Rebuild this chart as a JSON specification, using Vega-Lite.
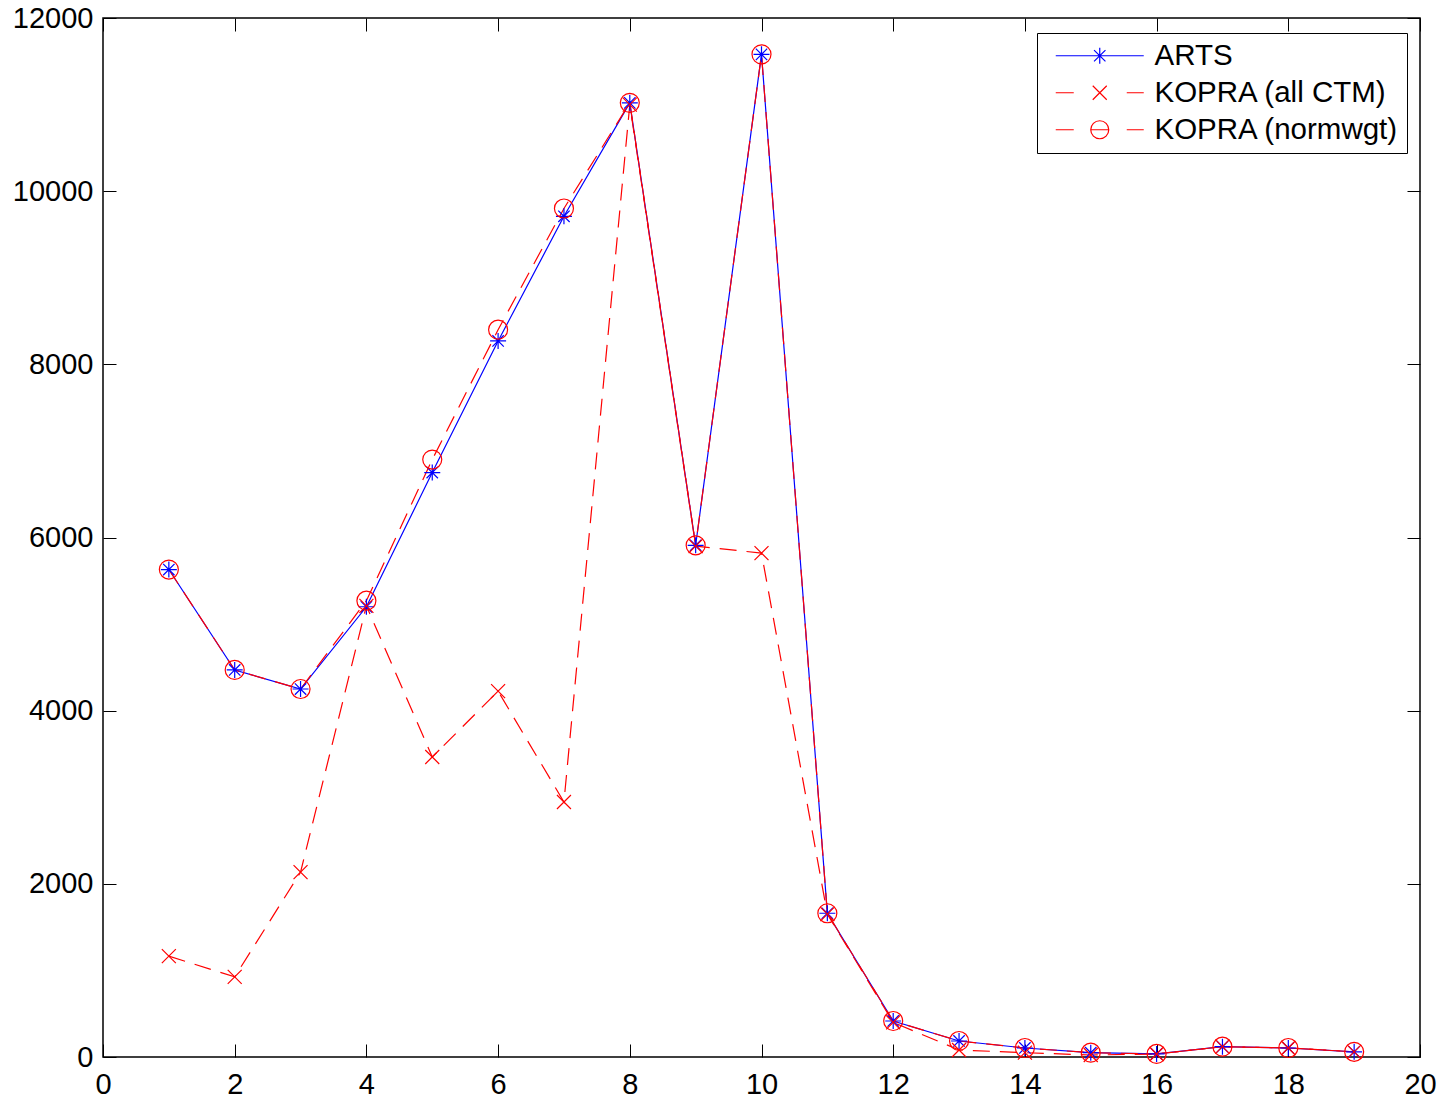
{
  "$schema": "https://vega.github.io/schema/vega-lite/v6.json",
  "width": 1317,
  "height": 1039,
  "autosize": {"type": "none"},
  "padding": {"left": 103, "top": 18, "right": 22, "bottom": 42},
  "background": "white",
  "config": {
    "view": {"stroke": "black", "strokeWidth": 1.5},
    "font": "Liberation Sans",
    "axis": {"labelFont": "Liberation Sans", "labelFontSize": 29, "labelColor": "black", "tickColor": "black", "domain": false, "grid": false, "title": null, "labelFlush": false}
  },
  "data": {"values": [
    {"x": 1, "series": "ARTS", "value": 5630},
    {"x": 2, "series": "ARTS", "value": 4470},
    {"x": 3, "series": "ARTS", "value": 4250},
    {"x": 4, "series": "ARTS", "value": 5200},
    {"x": 5, "series": "ARTS", "value": 6750},
    {"x": 6, "series": "ARTS", "value": 8270},
    {"x": 7, "series": "ARTS", "value": 9710},
    {"x": 8, "series": "ARTS", "value": 11020},
    {"x": 9, "series": "ARTS", "value": 5910},
    {"x": 10, "series": "ARTS", "value": 11580},
    {"x": 11, "series": "ARTS", "value": 1660},
    {"x": 12, "series": "ARTS", "value": 416},
    {"x": 13, "series": "ARTS", "value": 185},
    {"x": 14, "series": "ARTS", "value": 104},
    {"x": 15, "series": "ARTS", "value": 50},
    {"x": 16, "series": "ARTS", "value": 35},
    {"x": 17, "series": "ARTS", "value": 119},
    {"x": 18, "series": "ARTS", "value": 104},
    {"x": 19, "series": "ARTS", "value": 60},
    {"x": 1, "series": "KOPRA (all CTM)", "value": 1165},
    {"x": 2, "series": "KOPRA (all CTM)", "value": 925},
    {"x": 3, "series": "KOPRA (all CTM)", "value": 2135},
    {"x": 4, "series": "KOPRA (all CTM)", "value": 5210},
    {"x": 5, "series": "KOPRA (all CTM)", "value": 3465},
    {"x": 6, "series": "KOPRA (all CTM)", "value": 4225},
    {"x": 7, "series": "KOPRA (all CTM)", "value": 2945},
    {"x": 8, "series": "KOPRA (all CTM)", "value": 11000},
    {"x": 9, "series": "KOPRA (all CTM)", "value": 5900},
    {"x": 10, "series": "KOPRA (all CTM)", "value": 5820},
    {"x": 11, "series": "KOPRA (all CTM)", "value": 1650},
    {"x": 12, "series": "KOPRA (all CTM)", "value": 400},
    {"x": 13, "series": "KOPRA (all CTM)", "value": 81},
    {"x": 14, "series": "KOPRA (all CTM)", "value": 50},
    {"x": 15, "series": "KOPRA (all CTM)", "value": 23},
    {"x": 16, "series": "KOPRA (all CTM)", "value": 35},
    {"x": 17, "series": "KOPRA (all CTM)", "value": 119},
    {"x": 18, "series": "KOPRA (all CTM)", "value": 104},
    {"x": 19, "series": "KOPRA (all CTM)", "value": 60},
    {"x": 1, "series": "KOPRA (normwgt)", "value": 5630},
    {"x": 2, "series": "KOPRA (normwgt)", "value": 4470},
    {"x": 3, "series": "KOPRA (normwgt)", "value": 4250},
    {"x": 4, "series": "KOPRA (normwgt)", "value": 5270},
    {"x": 5, "series": "KOPRA (normwgt)", "value": 6900},
    {"x": 6, "series": "KOPRA (normwgt)", "value": 8400},
    {"x": 7, "series": "KOPRA (normwgt)", "value": 9800},
    {"x": 8, "series": "KOPRA (normwgt)", "value": 11020},
    {"x": 9, "series": "KOPRA (normwgt)", "value": 5910},
    {"x": 10, "series": "KOPRA (normwgt)", "value": 11580},
    {"x": 11, "series": "KOPRA (normwgt)", "value": 1660},
    {"x": 12, "series": "KOPRA (normwgt)", "value": 416},
    {"x": 13, "series": "KOPRA (normwgt)", "value": 185},
    {"x": 14, "series": "KOPRA (normwgt)", "value": 104},
    {"x": 15, "series": "KOPRA (normwgt)", "value": 50},
    {"x": 16, "series": "KOPRA (normwgt)", "value": 35},
    {"x": 17, "series": "KOPRA (normwgt)", "value": 119},
    {"x": 18, "series": "KOPRA (normwgt)", "value": 104},
    {"x": 19, "series": "KOPRA (normwgt)", "value": 60}
  ]},
  "resolve": {"axis": {"x": "independent", "y": "independent"}},
  "layer": [
    {
      "transform": [{"filter": "datum.series === 'ARTS'"}],
      "mark": {"type": "line", "strokeWidth": 1.2},
      "encoding": {
        "x": {"field": "x", "type": "quantitative", "scale": {"domain": [0, 20], "nice": false, "zero": false},
              "axis": {"orient": "bottom", "values": [0,2,4,6,8,10,12,14,16,18,20], "format": "d", "tickSize": -13, "labelPadding": 26}},
        "y": {"field": "value", "type": "quantitative", "scale": {"domain": [0, 12000], "nice": false},
              "axis": {"orient": "left", "values": [0,2000,4000,6000,8000,10000,12000], "format": "d", "tickSize": -13, "labelPadding": 23}},
        "color": {"field": "series", "type": "nominal",
                  "scale": {"domain": ["ARTS", "KOPRA (all CTM)", "KOPRA (normwgt)"], "range": ["#0000ff", "#ff0000", "#ff0000"]},
                  "legend": {
                    "title": null, "orient": "none", "legendX": 934, "legendY": 15,
                    "strokeColor": "black", "fillColor": "white", "padding": 8,
                    "labelFont": "Liberation Sans", "labelFontSize": 29.5, "labelColor": "black", "labelLimit": 500,
                    "symbolSize": 400, "symbolOffset": 40, "labelOffset": 40, "rowPadding": 6,
                    "symbolStrokeWidth": 1.2,
                    "encode": {"symbols": {"update": {
                      "shape": {"signal": "datum.value === 'ARTS' ? 'M-4.4,0H4.4M-0.8,0H0.8M0,-0.8V0.8M-0.57,-0.57L0.57,0.57M-0.57,0.57L0.57,-0.57' : datum.value === 'KOPRA (all CTM)' ? 'M-4.4,0H-2.6M2.7,0H4.4M-0.7,-0.7L0.7,0.7M-0.7,0.7L0.7,-0.7' : 'M-4.4,0H-2.6M2.7,0H4.4M-0.9,0H0.9M-0.9,0A0.9 0.9 0 1 0 0.9,0A0.9 0.9 0 1 0 -0.9,0'"},
                      "fill": {"value": "transparent"},
                      "stroke": {"signal": "datum.value === 'ARTS' ? '#0000ff' : '#ff0000'"},
                      "strokeWidth": {"value": 1.2},
                      "opacity": {"value": 1}
                    }}}
                  }}
      }
    },
    {
      "transform": [{"filter": "datum.series === 'KOPRA (all CTM)'"}],
      "mark": {"type": "line", "strokeWidth": 1.2, "strokeDash": [17, 10]},
      "encoding": {
        "x": {"field": "x", "type": "quantitative", "axis": null},
        "y": {"field": "value", "type": "quantitative", "axis": null},
        "color": {"field": "series", "type": "nominal"}
      }
    },
    {
      "transform": [{"filter": "datum.series === 'KOPRA (normwgt)'"}],
      "mark": {"type": "line", "strokeWidth": 1.2, "strokeDash": [17, 10]},
      "encoding": {
        "x": {"field": "x", "type": "quantitative", "axis": null},
        "y": {"field": "value", "type": "quantitative", "axis": null},
        "color": {"field": "series", "type": "nominal"}
      }
    },
    {
      "transform": [{"filter": "datum.series === 'ARTS'"}],
      "mark": {"type": "point", "filled": false, "strokeWidth": 1.2, "opacity": 1, "size": 400,
               "shape": "M-0.8,0H0.8M0,-0.8V0.8M-0.57,-0.57L0.57,0.57M-0.57,0.57L0.57,-0.57"},
      "encoding": {
        "x": {"field": "x", "type": "quantitative", "axis": null},
        "y": {"field": "value", "type": "quantitative", "axis": null},
        "color": {"field": "series", "type": "nominal"}
      }
    },
    {
      "transform": [{"filter": "datum.series === 'KOPRA (all CTM)'"}],
      "mark": {"type": "point", "filled": false, "strokeWidth": 1.2, "opacity": 1, "size": 400,
               "shape": "M-0.7,-0.7L0.7,0.7M-0.7,0.7L0.7,-0.7"},
      "encoding": {
        "x": {"field": "x", "type": "quantitative", "axis": null},
        "y": {"field": "value", "type": "quantitative", "axis": null},
        "color": {"field": "series", "type": "nominal"}
      }
    },
    {
      "transform": [{"filter": "datum.series === 'KOPRA (normwgt)'"}],
      "mark": {"type": "point", "filled": false, "strokeWidth": 1.2, "opacity": 1, "size": 400,
               "shape": "M-0.95,0A0.95 0.95 0 1 0 0.95,0A0.95 0.95 0 1 0 -0.95,0"},
      "encoding": {
        "x": {"field": "x", "type": "quantitative",
              "axis": {"orient": "top", "values": [0,2,4,6,8,10,12,14,16,18,20], "labels": false, "tickSize": -13}},
        "y": {"field": "value", "type": "quantitative",
              "axis": {"orient": "right", "values": [0,2000,4000,6000,8000,10000,12000], "labels": false, "tickSize": -13}},
        "color": {"field": "series", "type": "nominal"}
      }
    }
  ]
}
